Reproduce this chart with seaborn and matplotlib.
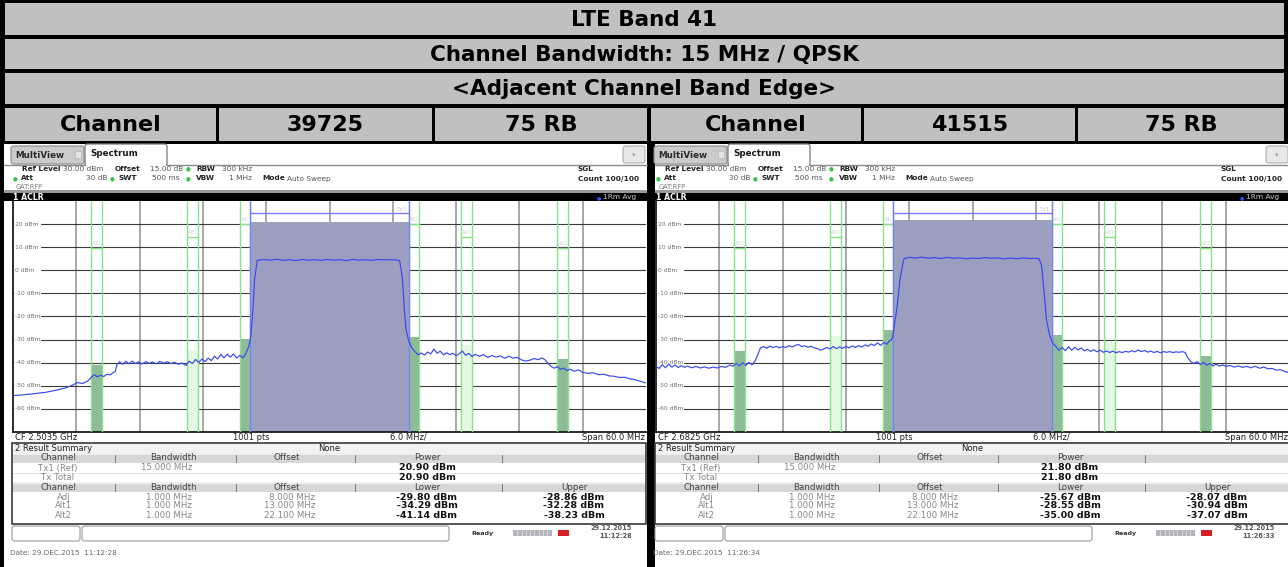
import matplotlib
matplotlib.use("Agg")
import matplotlib.pyplot as plt
from matplotlib.patches import Rectangle, FancyBboxPatch
import pandas as pd
import seaborn as sns

# ---------------- data ----------------
title_rows = ["LTE Band 41", "Channel Bandwidth: 15 MHz / QPSK", "<Adjacent Channel Band Edge>"]
channel_cells = ["Channel", "39725", "75 RB", "Channel", "41515", "75 RB"]

center_freq_labels = ["CF 2.5035 GHz", "CF 2.6825 GHz"]
span_mhz = 60.0
ref_level_dbm = 30.0
bottom_dbm = -70.0
level_ticks = [20, 10, 0, -10, -20, -30, -40, -50, -60]
level_labels = ["20 dBm", "10 dBm", "0 dBm", "-10 dBm", "-20 dBm", "-30 dBm", "-40 dBm", "-50 dBm", "-60 dBm"]
freq_grid_mhz = [-24, -18, -12, -6, 0, 6, 12, 18, 24]

tx_bandwidth_mhz = 15.0
tx_power_dbm = [20.90, 21.80]
tx_limit_dbm = 24.6

adj_names = ["Adj", "Alt1", "Alt2"]
adj_offset_mhz = [8.0, 13.0, 22.1]
adj_bandwidth_mhz = [1.0, 1.0, 1.0]
adj_limit_dbm = [20.0, 14.5, 9.7]
adj_offset_labels = ["8.000 MHz", "13.000 MHz", "22.100 MHz"]
adj_bw_labels = ["1.000 MHz", "1.000 MHz", "1.000 MHz"]
lower_power_left = [-29.80, -34.29, -41.14]
upper_power_left = [-28.86, -32.28, -38.23]
lower_power_right = [-25.67, -28.55, -35.00]
upper_power_right = [-28.07, -30.94, -37.07]

trace_left_mhz = [
    -30.0, -29.0, -28.0, -27.0, -26.0, -25.0, -24.3, -23.9, -23.4, -22.9, -22.6, -22.3, -22.0, -21.7, -21.4,
    -21.1, -20.8, -20.5, -20.3, -20.15, -19.9, -19.6, -19.3, -19.0, -18.7, -18.4, -18.1, -17.8, -17.4, -17.1,
    -16.8, -16.4, -16.1, -15.7, -15.4, -15.0, -14.7, -14.3, -14.0, -13.6, -13.3, -13.0, -12.7, -12.4, -12.1,
    -11.8, -11.5, -11.2, -10.9, -10.6, -10.3, -10.0, -9.7, -9.4, -9.1, -8.8, -8.5, -8.2, -7.9, -7.65, -7.45,
    -7.25, -7.1, -6.85, -6.2, -5.6, -5.0, -4.4, -3.8, -3.2, -2.6, -2.0, -1.4, -0.8, -0.2, 0.4, 1.0, 1.6, 2.2,
    2.8, 3.4, 4.0, 4.6, 5.2, 5.8, 6.4, 6.65, 6.9, 7.1, 7.25, 7.5, 7.8, 8.1, 8.4, 8.7, 9.0, 9.3, 9.6, 9.9,
    10.2, 10.5, 10.8, 11.1, 11.4, 11.7, 12.0, 12.3, 12.6, 12.9, 13.2, 13.5, 13.8, 14.2, 14.6, 15.0, 15.4,
    15.8, 16.2, 16.6, 17.0, 17.4, 17.8, 18.2, 18.6, 19.0, 19.4, 19.8, 20.1, 20.4, 20.7, 21.0, 21.3, 21.6,
    21.9, 22.2, 22.5, 22.8, 23.2, 23.6, 24.0, 24.5, 25.0, 25.5, 26.0, 26.5, 27.0, 27.5, 28.0, 28.5, 29.0,
    29.5, 30.0]
trace_left_dbm = [
    -54.2, -53.9, -53.4, -52.9, -52.0, -50.9, -49.6, -48.6, -49.0, -47.9, -46.4, -45.2, -46.1, -45.4, -46.0,
    -45.0, -45.3, -44.3, -43.8, -40.8, -39.6, -40.7, -39.4, -40.5, -39.3, -40.4, -39.6, -40.6, -39.5, -40.3,
    -39.7, -40.5, -39.4, -40.2, -39.6, -40.4, -39.8, -40.7, -40.1, -41.2, -39.3, -40.4, -38.6, -39.9, -38.4,
    -39.5, -38.0, -39.1, -37.2, -38.4, -36.4, -37.9, -36.3, -37.6, -36.2, -38.0, -36.8, -37.9, -35.8, -33.0,
    -28.5, -16.0, -4.0, 4.3, 4.7, 4.4, 4.8, 4.3, 4.6, 4.2, 4.7, 4.4, 4.6, 4.3, 4.7, 4.4, 4.6, 4.2, 4.7, 4.4,
    4.6, 4.3, 4.7, 4.5, 4.6, 4.4, 4.2, -3.0, -17.0, -25.5, -30.5, -33.5, -35.2, -36.6, -35.8, -36.7, -35.4,
    -36.2, -34.1, -35.9, -35.0, -36.6, -35.7, -36.5, -35.9, -37.0, -36.1, -35.0, -36.8, -36.0, -37.3, -36.4,
    -37.2, -36.5, -37.7, -36.9, -37.6, -37.0, -38.1, -37.2, -38.0, -37.7, -38.8, -39.3, -38.9, -38.2, -38.7,
    -37.9, -38.6, -40.2, -41.6, -42.4, -41.7, -42.9, -42.3, -43.4, -42.8, -43.7, -43.1, -44.2, -44.6, -44.4,
    -45.2, -45.0, -45.7, -45.9, -46.4, -46.3, -47.0, -47.4, -48.1, -48.8]

trace_right_mhz = [
    -30.0, -29.7, -29.4, -29.1, -28.8, -28.5, -28.2, -27.9, -27.6, -27.3, -27.0, -26.6, -26.2, -25.8, -25.4,
    -25.0, -24.6, -24.2, -23.8, -23.4, -23.0, -22.7, -22.4, -22.1, -21.8, -21.5, -21.2, -20.9, -20.6, -20.35,
    -20.1, -19.8, -19.5, -19.2, -18.9, -18.6, -18.3, -18.0, -17.7, -17.4, -17.1, -16.8, -16.5, -16.2, -15.9,
    -15.6, -15.3, -15.0, -14.7, -14.4, -14.1, -13.8, -13.5, -13.2, -12.9, -12.6, -12.3, -12.0, -11.7, -11.4,
    -11.1, -10.8, -10.5, -10.2, -9.9, -9.6, -9.3, -9.0, -8.7, -8.4, -8.1, -7.9, -7.7, -7.55, -7.35, -7.15,
    -6.85, -6.5, -6.0, -5.4, -4.8, -4.2, -3.6, -3.0, -2.4, -1.8, -1.2, -0.6, 0.0, 0.6, 1.2, 1.8, 2.4, 3.0,
    3.6, 4.2, 4.8, 5.4, 6.0, 6.3, 6.55, 6.8, 7.0, 7.3, 7.6, 7.9, 8.2, 8.5, 8.8, 9.1, 9.4, 9.7, 10.0, 10.3,
    10.6, 10.9, 11.2, 11.5, 11.8, 12.1, 12.4, 12.7, 13.0, 13.3, 13.6, 13.9, 14.2, 14.5, 14.8, 15.1, 15.4,
    15.7, 16.0, 16.3, 16.6, 16.9, 17.2, 17.5, 17.8, 18.1, 18.4, 18.7, 19.0, 19.3, 19.6, 19.9, 20.15, 20.4,
    20.7, 21.0, 21.3, 21.6, 21.9, 22.2, 22.5, 22.8, 23.1, 23.4, 23.7, 24.0, 24.4, 24.8, 25.2, 25.6, 26.0,
    26.4, 26.8, 27.2, 27.6, 28.0, 28.4, 28.8, 29.2, 29.6, 30.0]
trace_right_dbm = [
    -41.6, -42.5, -40.8, -42.2, -40.6, -41.9, -41.0, -42.1, -41.3, -42.0, -41.5, -42.2, -41.6, -42.3, -41.8,
    -42.4, -41.9, -42.3, -41.6, -42.0, -41.0, -41.6, -40.3, -41.4, -40.0, -41.2, -39.9, -40.9, -39.2, -36.5,
    -33.6, -33.0, -33.7, -32.8, -33.5, -32.9, -33.6, -33.0, -33.4, -32.6, -33.2, -32.5, -32.1, -33.0, -32.7,
    -33.3, -32.9, -33.6, -33.9, -34.6, -34.0, -33.4, -34.1, -33.0, -33.9, -33.2, -33.8, -32.9, -33.6, -32.7,
    -33.4, -32.6, -33.2, -32.3, -32.9, -31.9, -32.6, -31.4, -32.5, -31.2, -32.0, -30.6, -30.2, -28.5, -22.0,
    -16.0, -3.0, 5.0, 5.6, 5.3, 5.7, 5.2, 5.5, 5.1, 5.6, 5.2, 5.4, 5.0, 5.3, 5.1, 5.5, 5.2, 5.4, 4.9, 5.3,
    5.0, 5.4, 5.1, 5.2, 5.0, 2.0, -10.0, -21.0, -28.0, -31.5, -33.0, -34.6, -33.4, -34.8, -33.1, -34.6, -33.3,
    -34.5, -33.6, -34.9, -34.2, -35.1, -34.4, -35.3, -34.6, -35.5, -34.9, -35.6, -35.0, -35.7, -35.2, -35.6,
    -35.1, -35.4, -34.8, -35.3, -34.5, -35.2, -34.7, -35.4, -35.0, -35.6, -35.1, -35.7, -35.2, -35.5, -35.2,
    -35.6, -35.3, -35.5, -35.2, -35.6, -37.8, -39.6, -40.3, -39.5, -40.8, -39.9, -41.1, -40.3, -41.4, -40.6,
    -41.5, -40.9, -41.6, -41.2, -41.9, -41.4, -42.0, -41.6, -42.2, -41.5, -42.4, -41.9, -42.6, -42.5, -43.2,
    -43.0, -43.8, -44.3]

status_dates = ["29.12.2015", "29.12.2015"]
status_times = ["11:12:28", "11:26:33"]
footer_dates = ["Date: 29.DEC.2015  11:12:28", "Date: 29.DEC.2015  11:26:34"]

# ---------------- styling ----------------
sns.set_style("white")
plt.rcParams['font.family'] = ['DejaVu Sans']

W, H = 1288, 567
fig = plt.figure(figsize=(W / 100, H / 100), dpi=100)
fig.patch.set_facecolor('white')
bg = fig.add_axes([0, 0, 1, 1])
bg.set_xlim(0, W)
bg.set_ylim(H, 0)
bg.axis('off')


def box(x0, y0, x1, y1, fc, ec='none', lw=0, z=1):
    bg.add_patch(Rectangle((x0, y0), x1 - x0, y1 - y0, facecolor=fc, edgecolor=ec, linewidth=lw, zorder=z))


def rbox(x0, y0, x1, y1, fc, ec, lw=0.8, z=2, r=2.5):
    bg.add_patch(FancyBboxPatch((x0, y0), x1 - x0, y1 - y0, boxstyle=f"round,pad=0,rounding_size={r}",
                                facecolor=fc, edgecolor=ec, linewidth=lw, zorder=z))


def txt(x, y, s, size=6.0, weight='normal', color='#222222', ha='left', va='center', z=5):
    bg.text(x, y, s, fontsize=size, fontweight=weight, color=color, ha=ha, va=va, zorder=z)


# ---------------- header table ----------------
box(0, 0, W, H, 'black', z=0)
header_gray = '#c0c0c0'
for (y0, y1), s in zip([(3, 35), (39, 69), (73, 104)], title_rows):
    box(5, y0, 1284, y1, header_gray, z=1)
    txt(644, (y0 + y1) / 2 + 0.5, s, size=15.5, weight='bold', color='black', ha='center')
cells = [(5, 216), (219, 432), (435, 647), (651, 861), (864, 1075), (1078, 1284)]
for (x0, x1), s in zip(cells, channel_cells):
    box(x0, 108, x1, 141, header_gray, z=1)
    txt((x0 + x1) / 2, 125, s, size=16, weight='bold', color='black', ha='center')

# ---------------- spectrum panels ----------------
panels = [
    dict(ox=0, x0=4, x1=647, plot_x=13, cf=center_freq_labels[0], tx=tx_power_dbm[0],
         lower=lower_power_left, upper=upper_power_left, f=trace_left_mhz, p=trace_left_dbm,
         sdate=status_dates[0], stime=status_times[0], footer=footer_dates[0]),
    dict(ox=643, x0=655, x1=1288, plot_x=656, cf=center_freq_labels[1], tx=tx_power_dbm[1],
         lower=lower_power_right, upper=upper_power_right, f=trace_right_mhz, p=trace_right_dbm,
         sdate=status_dates[1], stime=status_times[1], footer=footer_dates[1]),
]

GREEN_LINE = '#86e486'
DARK_BAR = '#8fbb99'
LIGHT_BAR = '#e3f9e5'
TX_FILL = '#9d9fc1'
TX_LINE = '#7b7bff'
TRACE = '#3848f2'

for P in panels:
    ox, x0, x1 = P['ox'], P['x0'], P['x1']
    box(x0, 144, x1, H, 'white', z=1)

    # tabs
    rbox(ox + 11, 146, ox + 84, 164, '#cbcbcb', '#8a8a8a')
    txt(ox + 15, 155, "MultiView", size=6.3, weight='bold', color='#2a2a2a')
    box(ox + 75, 151, ox + 81, 158, '#e4e4e4', '#b5b5b5', 0.5, z=3)
    bg.plot([x0, ox + 85], [165, 165], color='#8a8a8a', lw=1, zorder=2)
    bg.plot([ox + 167, x1], [165, 165], color='#8a8a8a', lw=1, zorder=2)
    rbox(ox + 85, 144, ox + 167, 166, 'white', '#7a7a7a', lw=0.9, z=3)
    box(ox + 86, 163, ox + 166, 167, 'white', z=3)
    txt(ox + 90, 154, "Spectrum", size=6.3, weight='bold', color='#1a1a1a', z=6)
    rbox(ox + 623, 146, ox + 645, 163, '#e8e8e8', '#b0b0b0', z=3)
    txt(ox + 634, 155, "\u25be", size=5, color='#a0a0a0', ha='center', z=6)

    # info lines
    ya, yb, yc = 169, 178.5, 187
    txt(ox + 22, ya, "Ref Level", size=5.3, weight='bold')
    txt(ox + 63, ya, "30.00 dBm", size=5.3, color='#555555')
    txt(ox + 115, ya, "Offset", size=5.3, weight='bold')
    txt(ox + 150, ya, "15.00 dB", size=5.3, color='#555555')
    txt(ox + 188, ya, "\u25cf", size=4, color='#3cc04c', ha='center')
    txt(ox + 196, ya, "RBW", size=5.3, weight='bold')
    txt(ox + 222, ya, "300 kHz", size=5.3, color='#555555')
    txt(ox + 15, yb, "\u25cf", size=4, color='#3cc04c', ha='center')
    txt(ox + 21, yb, "Att", size=5.3, weight='bold')
    txt(ox + 107, yb, "30 dB", size=5.3, color='#555555', ha='right')
    txt(ox + 112, yb, "\u25cf", size=4, color='#3cc04c', ha='center')
    txt(ox + 119, yb, "SWT", size=5.3, weight='bold')
    txt(ox + 180, yb, "500 ms", size=5.3, color='#555555', ha='right')
    txt(ox + 188, yb, "\u25cf", size=4, color='#3cc04c', ha='center')
    txt(ox + 196, yb, "VBW", size=5.3, weight='bold')
    txt(ox + 252, yb, "1 MHz", size=5.3, color='#555555', ha='right')
    txt(ox + 262, yb, "Mode", size=5.3, weight='bold')
    txt(ox + 287, yb, "Auto Sweep", size=5.3, color='#555555')
    txt(ox + 16, yc, "GAT:RFP", size=4.8, color='#777777')
    txt(ox + 578, ya, "SGL", size=5.3, weight='bold')
    txt(ox + 578, yb, "Count 100/100", size=5.3, weight='bold')

    # ACLR bar
    box(x0, 190, x1, 193, '#9a9a9a', z=2)
    box(x0, 193, x1, 201, 'black', z=2)
    txt(ox + 13, 197.2, "1 ACLR", size=5.6, weight='bold', color='white')
    txt(ox + 599, 197.2, "\u25cf", size=3.5, color='#3050ff', ha='center')
    txt(ox + 603, 197.2, "1Rm Avg", size=5.3, color='#cfcfcf')

    # ---- spectrum plot ----
    ax = fig.add_axes([P['plot_x'] / W, (H - 432) / H, 633 / W, 231 / H])
    ax.set_facecolor('white')
    ax.set_xlim(-span_mhz / 2, span_mhz / 2)
    ax.set_ylim(bottom_dbm, ref_level_dbm)
    ax.set_xticks([])
    ax.set_yticks([])
    for side in ['left', 'bottom']:
        ax.spines[side].set_color('#1a1a1a')
        ax.spines[side].set_linewidth(1.3)
    for side in ['top', 'right']:
        ax.spines[side].set_visible(False)

    for fg in freq_grid_mhz:
        ax.axvline(fg, color='#8f8f8f', lw=1.1, zorder=1)
    for lv, lab in zip(level_ticks, level_labels):
        ax.plot([-27.3, 30], [lv, lv], color='#3a3a3a', lw=0.8, zorder=1)
        ax.text(-29.8, lv, lab, fontsize=4.3, color='#6f6f6f', ha='left', va='center', zorder=1)

    # Tx channel
    half = tx_bandwidth_mhz / 2
    ax.bar(0, P['tx'] - bottom_dbm, bottom=bottom_dbm, width=tx_bandwidth_mhz,
           color=TX_FILL, edgecolor='none', zorder=2)
    ax.plot([-half, -half], [bottom_dbm, ref_level_dbm], color=TX_LINE, lw=1.0, zorder=4)
    ax.plot([half, half], [bottom_dbm, ref_level_dbm], color=TX_LINE, lw=1.0, zorder=4)
    ax.plot([-half, half], [tx_limit_dbm, tx_limit_dbm], color=TX_LINE, lw=1.0, zorder=4)
    ax.text(half - 1.2, tx_limit_dbm + 1.6, "Tx1", fontsize=4, color='#c8c8dd', ha='left', va='center', zorder=4)

    # adjacent / alternate channels
    for i, (name, off, bw, lim) in enumerate(zip(adj_names, adj_offset_mhz, adj_bandwidth_mhz, adj_limit_dbm)):
        color = LIGHT_BAR if name == "Alt1" else DARK_BAR
        for sgn, pw in ((-1, P['lower'][i]), (1, P['upper'][i])):
            c = sgn * off
            ax.bar(c, pw - bottom_dbm, bottom=bottom_dbm, width=bw, color=color, edgecolor='none', zorder=2)
            for e in (c - bw / 2, c + bw / 2):
                ax.plot([e, e], [bottom_dbm, ref_level_dbm], color=GREEN_LINE, lw=1.0, zorder=3)
            ax.plot([c - bw / 2, c + bw / 2], [lim, lim], color=GREEN_LINE, lw=1.0, zorder=3)
            ax.text(c - bw / 2 + 0.1, lim + 1.8, name, fontsize=3.6, color='#d4d4d4',
                    ha='left', va='center', zorder=3)

    trace_df = pd.DataFrame({"freq": P['f'], "level": P['p']})
    sns.lineplot(data=trace_df, x="freq", y="level", ax=ax, color=TRACE, lw=0.85,
                 estimator=None, sort=False, zorder=5)
    ax.set_xlabel("")
    ax.set_ylabel("")

    # ---- under plot ----
    txt(ox + 15, 437.5, P['cf'], size=6.0)
    txt(ox + 233, 437.5, "1001 pts", size=6.0)
    txt(ox + 408, 437.5, "6.0 MHz/", size=6.0, ha='center')
    txt(ox + 645, 437.5, "Span 60.0 MHz", size=6.0, ha='right')

    # ---- result summary ----
    tx0, tx1 = ox + 12, ox + 646
    box(tx0, 443, tx1, 524, 'white', z=2)
    box(tx0, 443, tx1, 453, '#f2f2f2', z=2)
    txt(ox + 15, 448.5, "2 Result Summary", size=6.0, color='#222222')
    txt(ox + 318, 448.5, "None", size=6.0, color='#222222')
    for (hy0, hy1) in [(453, 463), (482, 492)]:
        box(tx0, hy0, tx1, hy1, '#d7d7d7', z=2)
        box(tx0, hy0, tx1, hy0 + 1.5, '#efefef', z=2)
        for sx in (115, 236, 355, 502):
            bg.plot([ox + sx, ox + sx], [hy0 + 1.5, hy1 - 1.5], color='#777777', lw=0.7, zorder=3)
    bg.plot([tx0, tx1], [472.5, 472.5], color='#e2e2e2', lw=0.7, zorder=3)
    hdr = '#444444'
    for yy, labels in ((458, ["Channel", "Bandwidth", "Offset", "Power", ""]),
                       (487.5, ["Channel", "Bandwidth", "Offset", "Lower", "Upper"])):
        for cx, lab in zip((58, 173, 287, 427, 574), labels):
            txt(ox + cx, yy, lab, size=6.3, color=hdr, ha='center')
    txt(ox + 58, 468, "Tx1 (Ref)", size=6.2, color='#888888', ha='center')
    txt(ox + 167, 468, "15.000 MHz", size=6.2, color='#888888', ha='center')
    txt(ox + 427, 468, f"{P['tx']:.2f} dBm", size=6.8, weight='bold', color='#111111', ha='center')
    txt(ox + 58, 477.5, "Tx Total", size=6.2, color='#888888', ha='center')
    txt(ox + 427, 477.5, f"{P['tx']:.2f} dBm", size=6.8, weight='bold', color='#111111', ha='center')
    for i, yy in enumerate((497, 506, 515.5)):
        txt(ox + 64, yy, adj_names[i], size=6.2, color='#888888', ha='center')
        txt(ox + 169, yy, adj_bw_labels[i], size=6.2, color='#888888', ha='center')
        txt(ox + 315, yy, adj_offset_labels[i], size=6.2, color='#888888', ha='right')
        txt(ox + 427, yy, f"{P['lower'][i]:.2f} dBm", size=6.8, weight='bold', color='#111111', ha='center')
        txt(ox + 574, yy, f"{P['upper'][i]:.2f} dBm", size=6.8, weight='bold', color='#111111', ha='center')
    bg.add_patch(Rectangle((tx0, 443), tx1 - tx0, 81, facecolor='none', edgecolor='#3a3a3a',
                           linewidth=1.2, zorder=4))

    # ---- status bar ----
    rbox(ox + 12, 526, ox + 80, 541, 'white', '#9a9a9a')
    rbox(ox + 82, 526, ox + 449, 541, 'white', '#9a9a9a')
    txt(ox + 482, 533, "Ready", size=4.6, weight='bold', color='#333333', ha='center')
    box(ox + 513, 530, ox + 552, 536, '#b4b4bc', z=2)
    for k in range(1, 9):
        bg.plot([ox + 513 + k * 4.3, ox + 513 + k * 4.3], [530, 536], color='#e8e8e8', lw=0.5, zorder=3)
    box(ox + 558, 530, ox + 569, 536, '#d42020', z=2)
    txt(ox + 632, 527.5, P['sdate'], size=4.7, weight='bold', color='#555555', ha='right')
    txt(ox + 632, 536.5, P['stime'], size=4.7, weight='bold', color='#555555', ha='right')

    txt(ox + 10, 553, P['footer'], size=5.2, color='#666666')

fig.savefig("out.png", dpi=100, facecolor=fig.get_facecolor())
